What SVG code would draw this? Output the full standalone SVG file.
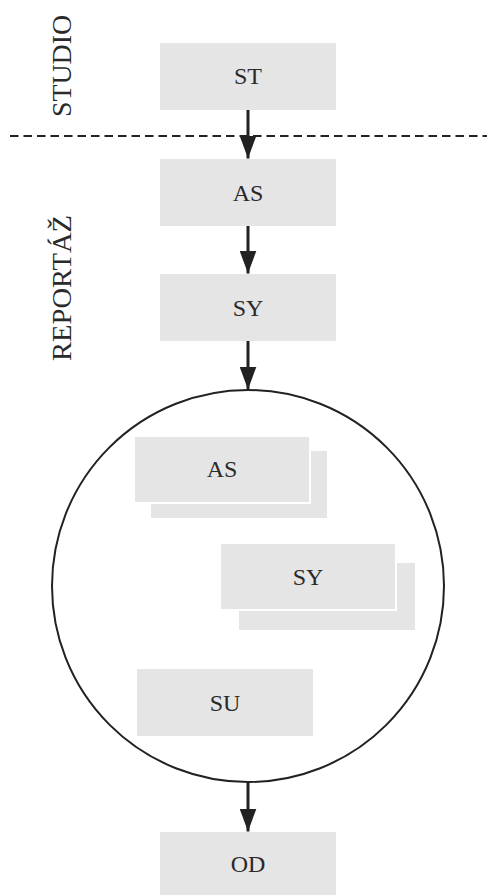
<svg xmlns="http://www.w3.org/2000/svg" width="487" height="895" viewBox="0 0 487 895">
<style>
.box{fill:#e5e5e5}
.front{fill:#e5e5e5;stroke:#fff;stroke-width:2}
text{font-family:"Liberation Serif","DejaVu Serif","Times New Roman",serif;fill:#2a2a2a;text-anchor:middle}
.lbl{font-size:24px}
.side{font-size:27px}
.conn{stroke:#222;stroke-width:3;fill:none}
</style>
<defs>
<marker id="ah" markerUnits="userSpaceOnUse" markerWidth="23" markerHeight="17" refX="23" refY="8.5" orient="auto" viewBox="0 0 23 17">
<path d="M0,0 L23,8.5 L0,17 Z" fill="#222"/>
</marker>
</defs>
<rect width="487" height="895" fill="#fff"/>
<text class="side" transform="translate(71,66) rotate(-90)" textLength="102" lengthAdjust="spacingAndGlyphs">STUDIO</text>
<text class="side" transform="translate(71,288) rotate(-90)" textLength="146" lengthAdjust="spacingAndGlyphs">REPORTÁŽ</text>
<line x1="10" y1="136" x2="487" y2="136" stroke="#222" stroke-width="2" stroke-dasharray="8.5,5"/>
<g id="n-st"><rect class="box" x="160" y="43" width="176" height="67"/><text class="lbl" x="248" y="84">ST</text></g>
<g id="n-as"><rect class="box" x="160" y="159" width="176" height="67"/><text class="lbl" x="248" y="201">AS</text></g>
<g id="n-sy"><rect class="box" x="160" y="274" width="176" height="67"/><text class="lbl" x="248" y="316">SY</text></g>
<g id="n-circle"><circle cx="248" cy="586" r="196" fill="none" stroke="#222" stroke-width="2"/></g>
<g id="n-as2"><rect class="box" x="151" y="451" width="176" height="67"/><rect class="front" x="134" y="436" width="176" height="67"/><text class="lbl" x="222" y="477">AS</text></g>
<g id="n-sy2"><rect class="box" x="239" y="563" width="176" height="67"/><rect class="front" x="220" y="543" width="176" height="67"/><text class="lbl" x="308" y="585">SY</text></g>
<g id="n-su"><rect class="box" x="137" y="669" width="176" height="67"/><text class="lbl" x="225" y="711">SU</text></g>
<g id="n-od"><rect class="box" x="160" y="832" width="176" height="63"/><text class="lbl" x="248" y="872">OD</text></g>
<g id="connectors">
<line class="conn" x1="248" y1="110" x2="248" y2="158.5" marker-end="url(#ah)"/>
<line class="conn" x1="248" y1="226" x2="248" y2="273.5" marker-end="url(#ah)"/>
<line class="conn" x1="248" y1="341" x2="248" y2="389.5" marker-end="url(#ah)"/>
<line class="conn" x1="248" y1="782" x2="248" y2="831.5" marker-end="url(#ah)"/>
</g>
</svg>
